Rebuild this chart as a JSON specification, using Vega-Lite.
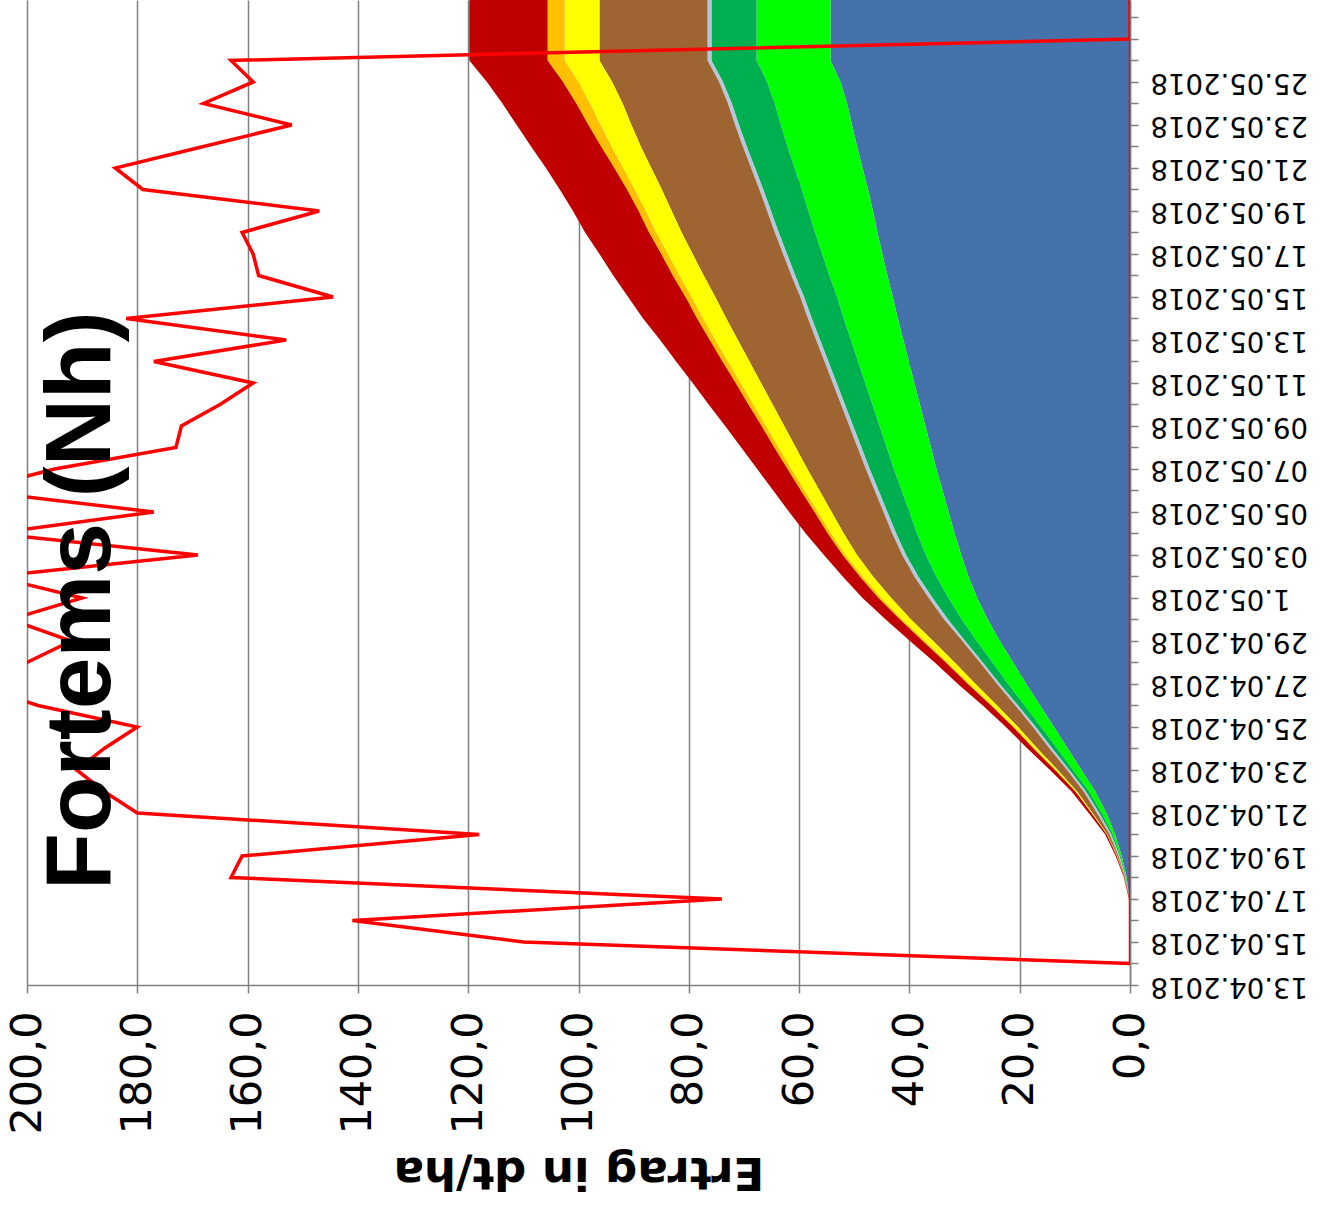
{
  "$schema": "https://vega.github.io/schema/vega-lite/v6.json",
  "width": 1103,
  "height": 985,
  "autosize": {"type": "none"},
  "padding": {"left": 27, "top": 0, "right": 204, "bottom": 229},
  "background": "white",
  "config": {"view": {"stroke": null}, "font": "DejaVu Sans"},
  "datasets": {
    "ertrag": [
      {"tag":"2018-04-16","s1":0,"s2":0,"s3":0,"s4":0,"s5":0,"s6":0,"s7":0,"s8":0},
      {"tag":"2018-04-17","s1":0.1,"s2":0,"s3":0,"s4":0,"s5":0,"s6":0,"s7":0,"s8":0.1},
      {"tag":"2018-04-18","s1":0.6,"s2":0.1,"s3":0.1,"s4":0.1,"s5":0.1,"s6":0,"s7":0,"s8":0.1},
      {"tag":"2018-04-19","s1":1.5,"s2":0.2,"s3":0.2,"s4":0.2,"s5":0.2,"s6":0.1,"s7":0,"s8":0.2},
      {"tag":"2018-04-20","s1":2.7,"s2":0.4,"s3":0.3,"s4":0.3,"s5":0.4,"s6":0.1,"s7":0,"s8":0.3},
      {"tag":"2018-04-21","s1":4.3,"s2":0.8,"s3":0.5,"s4":0.4,"s5":0.8,"s6":0.2,"s7":0,"s8":0.5},
      {"tag":"2018-04-22","s1":6.3,"s2":1.1,"s3":0.6,"s4":0.4,"s5":1.2,"s6":0.3,"s7":0,"s8":0.7},
      {"tag":"2018-04-23","s1":8.8,"s2":1.5,"s3":0.7,"s4":0.4,"s5":1.7,"s6":0.4,"s7":0.1,"s8":0.9},
      {"tag":"2018-04-24","s1":11.3,"s2":1.9,"s3":0.9,"s4":0.5,"s5":2.2,"s6":0.6,"s7":0.1,"s8":1.1},
      {"tag":"2018-04-25","s1":13.8,"s2":2.3,"s3":1.0,"s4":0.5,"s5":2.7,"s6":0.7,"s7":0.2,"s8":1.3},
      {"tag":"2018-04-26","s1":16.3,"s2":2.8,"s3":1.2,"s4":0.5,"s5":3.3,"s6":0.9,"s7":0.2,"s8":1.5},
      {"tag":"2018-04-27","s1":18.8,"s2":3.3,"s3":1.5,"s4":0.5,"s5":3.9,"s6":1.1,"s7":0.3,"s8":1.8},
      {"tag":"2018-04-28","s1":21.2,"s2":3.7,"s3":1.8,"s4":0.5,"s5":4.6,"s6":1.3,"s7":0.3,"s8":2.0},
      {"tag":"2018-04-29","s1":23.6,"s2":4.2,"s3":2.1,"s4":0.5,"s5":5.3,"s6":1.5,"s7":0.4,"s8":2.3},
      {"tag":"2018-04-30","s1":25.8,"s2":4.7,"s3":2.5,"s4":0.7,"s5":6.0,"s6":1.6,"s7":0.4,"s8":2.6},
      {"tag":"2018-05-01","s1":27.7,"s2":5.2,"s3":2.9,"s4":0.7,"s5":6.8,"s6":1.8,"s7":0.5,"s8":2.9},
      {"tag":"2018-05-02","s1":29.3,"s2":5.8,"s3":3.3,"s4":0.7,"s5":7.5,"s6":1.9,"s7":0.5,"s8":3.1},
      {"tag":"2018-05-03","s1":30.6,"s2":6.4,"s3":3.6,"s4":0.7,"s5":8.2,"s6":2.1,"s7":0.5,"s8":3.4},
      {"tag":"2018-05-04","s1":31.8,"s2":6.8,"s3":3.8,"s4":0.7,"s5":8.8,"s6":2.3,"s7":0.6,"s8":4.0},
      {"tag":"2018-05-05","s1":32.9,"s2":7.1,"s3":4.0,"s4":0.7,"s5":9.4,"s6":2.5,"s7":0.6,"s8":4.6},
      {"tag":"2018-05-06","s1":34.0,"s2":7.4,"s3":4.2,"s4":0.7,"s5":10.0,"s6":2.7,"s7":0.7,"s8":5.0},
      {"tag":"2018-05-07","s1":35.1,"s2":7.7,"s3":4.4,"s4":0.7,"s5":10.6,"s6":2.9,"s7":0.7,"s8":5.5},
      {"tag":"2018-05-08","s1":36.1,"s2":8.0,"s3":4.6,"s4":0.7,"s5":11.2,"s6":3.1,"s7":0.8,"s8":6.0},
      {"tag":"2018-05-09","s1":37.1,"s2":8.3,"s3":4.8,"s4":0.7,"s5":11.8,"s6":3.3,"s7":0.8,"s8":6.6},
      {"tag":"2018-05-10","s1":38.1,"s2":8.6,"s3":5.0,"s4":0.7,"s5":12.4,"s6":3.5,"s7":0.9,"s8":7.2},
      {"tag":"2018-05-11","s1":39.1,"s2":8.9,"s3":5.2,"s4":0.7,"s5":13.0,"s6":3.7,"s7":0.9,"s8":7.8},
      {"tag":"2018-05-12","s1":40.1,"s2":9.2,"s3":5.4,"s4":0.7,"s5":13.6,"s6":3.9,"s7":1.0,"s8":8.4},
      {"tag":"2018-05-13","s1":41.1,"s2":9.5,"s3":5.6,"s4":0.7,"s5":14.2,"s6":4.1,"s7":1.0,"s8":9.0},
      {"tag":"2018-05-14","s1":42.1,"s2":9.8,"s3":5.8,"s4":0.7,"s5":14.8,"s6":4.2,"s7":1.1,"s8":9.8},
      {"tag":"2018-05-15","s1":43.0,"s2":10.1,"s3":6.0,"s4":0.7,"s5":15.4,"s6":4.3,"s7":1.1,"s8":10.4},
      {"tag":"2018-05-16","s1":44.0,"s2":10.5,"s3":6.2,"s4":0.7,"s5":15.9,"s6":4.4,"s7":1.2,"s8":10.8},
      {"tag":"2018-05-17","s1":44.9,"s2":10.9,"s3":6.4,"s4":0.7,"s5":16.4,"s6":4.5,"s7":1.2,"s8":11.2},
      {"tag":"2018-05-18","s1":45.8,"s2":11.3,"s3":6.6,"s4":0.7,"s5":16.9,"s6":4.6,"s7":1.3,"s8":11.6},
      {"tag":"2018-05-19","s1":46.6,"s2":11.7,"s3":6.8,"s4":0.7,"s5":17.3,"s6":4.7,"s7":1.3,"s8":11.9},
      {"tag":"2018-05-20","s1":47.5,"s2":12.0,"s3":7.0,"s4":0.7,"s5":17.7,"s6":4.9,"s7":1.4,"s8":12.2},
      {"tag":"2018-05-21","s1":48.5,"s2":12.3,"s3":7.2,"s4":0.7,"s5":18.1,"s6":5.1,"s7":1.6,"s8":12.4},
      {"tag":"2018-05-22","s1":49.5,"s2":12.6,"s3":7.4,"s4":0.7,"s5":18.5,"s6":5.3,"s7":1.9,"s8":12.7},
      {"tag":"2018-05-23","s1":50.4,"s2":12.9,"s3":7.6,"s4":0.7,"s5":18.8,"s6":5.6,"s7":2.2,"s8":13.0},
      {"tag":"2018-05-24","s1":51.3,"s2":13.1,"s3":7.8,"s4":0.7,"s5":19.1,"s6":5.9,"s7":2.5,"s8":13.4},
      {"tag":"2018-05-25","s1":52.5,"s2":13.3,"s3":8.0,"s4":0.7,"s5":19.4,"s6":6.1,"s7":2.8,"s8":13.8},
      {"tag":"2018-05-26","s1":54.3,"s2":13.4,"s3":8.2,"s4":0.7,"s5":19.6,"s6":6.3,"s7":3.1,"s8":14.2},
      {"tag":"2018-05-27","s1":54.3,"s2":13.4,"s3":8.2,"s4":0.7,"s5":19.6,"s6":6.3,"s7":3.1,"s8":14.2},
      {"tag":"2018-05-28","s1":54.3,"s2":13.4,"s3":8.2,"s4":0.7,"s5":19.6,"s6":6.3,"s7":3.1,"s8":14.2},
      {"tag":"2018-05-29","s1":54.3,"s2":13.4,"s3":8.2,"s4":0.7,"s5":19.6,"s6":6.3,"s7":3.1,"s8":14.2}
    ],
    "linie": [
      {"tag":"2018-04-14","wert":0},
      {"tag":"2018-04-15","wert":110},
      {"tag":"2018-04-16","wert":141},
      {"tag":"2018-04-17","wert":74},
      {"tag":"2018-04-18","wert":163},
      {"tag":"2018-04-19","wert":161},
      {"tag":"2018-04-20","wert":118},
      {"tag":"2018-04-21","wert":180},
      {"tag":"2018-04-22","wert":186},
      {"tag":"2018-04-23","wert":191},
      {"tag":"2018-04-24","wert":186},
      {"tag":"2018-04-25","wert":180},
      {"tag":"2018-04-26","wert":198},
      {"tag":"2018-04-27","wert":210},
      {"tag":"2018-04-28","wert":200},
      {"tag":"2018-04-29","wert":192},
      {"tag":"2018-04-30","wert":203},
      {"tag":"2018-05-01","wert":190},
      {"tag":"2018-05-02","wert":206},
      {"tag":"2018-05-03","wert":169},
      {"tag":"2018-05-04","wert":206},
      {"tag":"2018-05-05","wert":177},
      {"tag":"2018-05-06","wert":210},
      {"tag":"2018-05-07","wert":195},
      {"tag":"2018-05-08","wert":173},
      {"tag":"2018-05-09","wert":172},
      {"tag":"2018-05-10","wert":165},
      {"tag":"2018-05-11","wert":159},
      {"tag":"2018-05-12","wert":177},
      {"tag":"2018-05-13","wert":153},
      {"tag":"2018-05-14","wert":182},
      {"tag":"2018-05-15","wert":144.5},
      {"tag":"2018-05-16","wert":158},
      {"tag":"2018-05-17","wert":159},
      {"tag":"2018-05-18","wert":161},
      {"tag":"2018-05-19","wert":147},
      {"tag":"2018-05-20","wert":179},
      {"tag":"2018-05-21","wert":184},
      {"tag":"2018-05-22","wert":168},
      {"tag":"2018-05-23","wert":152},
      {"tag":"2018-05-24","wert":168},
      {"tag":"2018-05-25","wert":159},
      {"tag":"2018-05-26","wert":163},
      {"tag":"2018-05-27","wert":0},
      {"tag":"2018-05-28","wert":0},
      {"tag":"2018-05-29","wert":0}
    ],
    "nulllinie": [
      {"tag":"2018-04-14","wert":0},
      {"tag":"2018-05-29","wert":0}
    ],
    "titel": [
      {"tag":"2018-04-17T10:00:00Z","wert":185,"text":"Fortems (Nh)"}
    ]
  },
  "layer": [
    {
      "data": {"name": "ertrag"},
      "transform": [{"fold": ["s1","s2","s3","s4","s5","s6","s7","s8"], "as": ["reihe","wert"]}],
      "mark": {"type": "area", "orient": "horizontal", "clip": true},
      "encoding": {
        "y": {
          "field": "tag", "type": "temporal",
          "scale": {"type": "utc", "domain": [{"year": 2018, "month": 4, "date": 13, "utc": true}, {"year": 2018, "month": 5, "date": 28, "hours": 19, "minutes": 30, "utc": true}]},
          "axis": {
            "orient": "right", "title": null, "grid": false,
            "tickCount": {"interval": "day", "step": 1},
            "labelExpr": "(round((datum.value - utc(2018,3,13))/86400000) % 2 == 0 && datum.value <= utc(2018,4,25,12)) ? (utcFormat(datum.value, '%d.%m.%Y') == '01.05.2018' ? '1.05.2018' : utcFormat(datum.value, '%d.%m.%Y')) : ''",
            "labelOverlap": false, "labelBound": false, "labelFlush": false,
            "labelAngle": 180, "labelAlign": "right", "labelBaseline": "middle",
            "labelFont": "DejaVu Sans", "labelFontSize": 27.5, "labelColor": "#000000", "labelPadding": 12,
            "domainColor": "#808080", "domainWidth": 1.5,
            "tickColor": "#808080", "tickWidth": 1.5, "tickSize": 8
          }
        },
        "x": {
          "field": "wert", "type": "quantitative", "stack": "zero",
          "scale": {"domain": [0, 200], "reverse": true, "nice": false},
          "axis": {
            "values": [0, 20, 40, 60, 80, 100, 120, 140, 160, 180, 200],
            "labelExpr": "replace(format(datum.value, '.1f'), '.', ',')",
            "labelAngle": 270, "labelAlign": "right", "labelBaseline": "middle",
            "labelFont": "DejaVu Sans", "labelFontSize": 43, "labelColor": "#000000", "labelPadding": 18,
            "labelOverlap": false, "labelBound": false, "labelFlush": false,
            "grid": true, "gridColor": "#808080", "gridWidth": 1.5,
            "domainColor": "#808080", "domainWidth": 1.5,
            "tickColor": "#808080", "tickWidth": 1.5, "tickSize": 8,
            "title": "Ertrag in dt/ha", "titleFont": "DejaVu Sans", "titleFontSize": 45, "titleFontWeight": "bold",
            "titleColor": "#000000", "titleAngle": 180, "titleBaseline": "bottom", "titlePadding": 14
          }
        },
        "color": {
          "field": "reihe", "type": "nominal", "legend": null,
          "scale": {"domain": ["s1","s2","s3","s4","s5","s6","s7","s8"], "range": ["#4672AC","#00FF00","#00B050","#B4C7DC","#9E6532","#FFFF00","#FFC000","#C00000"]}
        },
        "order": {"field": "reihe", "sort": "ascending"}
      }
    },
    {
      "data": {"name": "nulllinie"},
      "mark": {"type": "line", "orient": "horizontal", "color": "#FF0000", "strokeWidth": 2.5, "clip": true},
      "encoding": {
        "y": {"field": "tag", "type": "temporal"},
        "x": {"field": "wert", "type": "quantitative"}
      }
    },
    {
      "data": {"name": "linie"},
      "mark": {"type": "line", "orient": "horizontal", "color": "#FF0000", "strokeWidth": 3.5, "clip": true},
      "encoding": {
        "y": {"field": "tag", "type": "temporal"},
        "x": {"field": "wert", "type": "quantitative"}
      }
    },
    {
      "data": {"name": "titel"},
      "mark": {"type": "text", "angle": 270, "align": "left", "baseline": "alphabetic", "font": "Liberation Sans", "fontWeight": "bold", "fontSize": 93, "color": "#000000"},
      "encoding": {
        "y": {"field": "tag", "type": "temporal"},
        "x": {"field": "wert", "type": "quantitative"},
        "text": {"field": "text"}
      }
    }
  ]
}
